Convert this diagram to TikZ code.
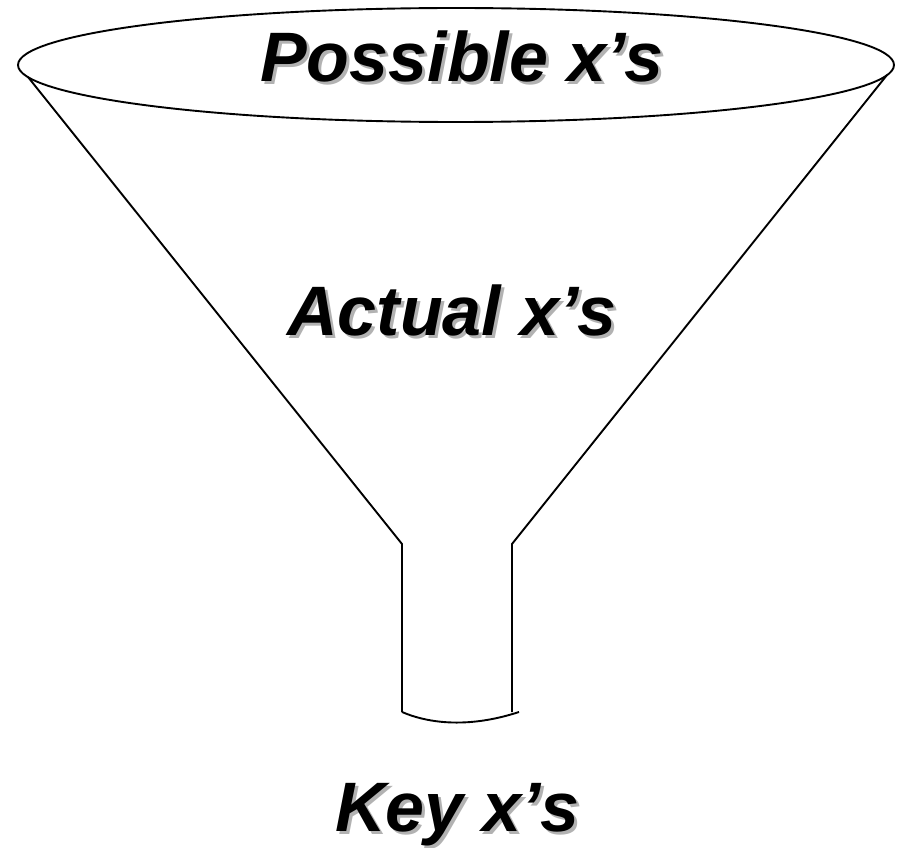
\documentclass[tikz,border=0pt]{standalone}
\usepackage{fontspec}
\setmainfont{Liberation Sans}
\begin{document}
\begin{tikzpicture}[x=1pt,y=-1pt,
  funnel/.style={draw=black,line width=1.9pt,line join=miter},
  lbl/.style={anchor=base,inner sep=0pt,font=\fontsize{70}{72}\selectfont\bfseries\itshape,text=black},
  shade/.style={lbl,text=black!30}]
\useasboundingbox (0,0) rectangle (900,848);
% funnel
\draw[funnel] (456,65) ellipse [x radius=438, y radius=57];
\coordinate (tl) at (28,77);
\coordinate (tr) at (887,75);
\coordinate (nl) at (402,544);
\coordinate (nr) at (512,544);
\coordinate (bl) at (402,712);
\coordinate (br) at (512,712);
\draw[funnel] (tl) -- (nl) -- (bl);
\draw[funnel] (tr) -- (nr) -- (br);
\draw[funnel] (bl) .. controls (430,724) and (470,728) .. (519,712);
% labels with shadow
\node[shade] at (465,85) {Possible x’s};
\node[lbl] (possible) at (462,82) {Possible x’s};
\node[shade] at (455,338) {Actual x’s};
\node[lbl] (actual) at (452,335) {Actual x’s};
\node[shade] at (460,834) {Key x’s};
\node[lbl] (key) at (457,831) {Key x’s};
\end{tikzpicture}
\end{document}
